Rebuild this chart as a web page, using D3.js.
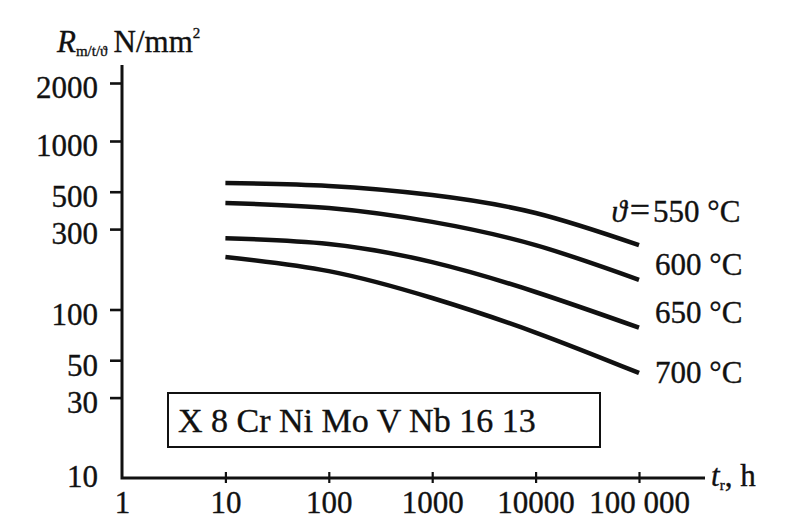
<!DOCTYPE html>
<html>
<head>
<meta charset="utf-8">
<script src="https://cdn.jsdelivr.net/npm/d3@7"></script>
<style>
  html, body { margin: 0; padding: 0; background: #fff; }
  svg { display: block; }
  text { font-family: "Liberation Serif", "DejaVu Serif", serif; fill: #111; stroke: #111; stroke-width: 0.35px; }
</style>
</head>
<body>
<svg id="chart" width="808" height="520"></svg>
<script>
// ---- data ----
const times = [10, 100, 1000, 10000, 100000];           // t_r in h
const temps = ["550", "600", "650", "700"];              // °C
const rupture550 = [563, 541, 478, 374, 241];            // N/mm²
const rupture600 = [429, 400, 331, 241, 150];
const rupture650 = [265, 245, 191, 127, 78];
const rupture700 = [205, 169, 117, 73, 42];
const seriesValues = [rupture550, rupture600, rupture650, rupture700];
const seriesLabels = ["550 °C", "600 °C", "650 °C", "700 °C"];
const xTickValues = [1, 10, 100, 1000, 10000, 100000];
const xTickLabels = ["1", "10", "100", "1000", "10000", "100 000"];
const yTickValues = [10, 30, 50, 100, 300, 500, 1000, 2000];
const yTickLabels = ["10", "30", "50", "100", "300", "500", "1000", "2000"];
const materialLabel = "X 8 Cr Ni Mo V Nb 16 13";

// ---- layout ----
const svg = d3.select("#chart");
const x0 = 122, x1 = 639, xAxisEnd = 705;
const yBottom = 478, yAxisTop = 65;
const labelLayout = [ {dx: 14, dy: -34}, {dx: 16, dy: -16}, {dx: 16, dy: -16}, {dx: 16, dy: -1} ];

const x = d3.scaleLog().domain([1, 100000]).range([x0, x1]);
// drawn axis is a (slightly irregular) log scale: piecewise log
const y = d3.scaleLog().domain([10, 1000, 2000]).range([yBottom, 141, 83]);

// ---- axes ----
const gy = svg.append("g").attr("transform", `translate(${x0},0)`)
  .call(d3.axisLeft(y).tickValues(yTickValues.filter(v => v !== 10))
    .tickFormat((d) => yTickLabels[yTickValues.indexOf(d)])
    .tickSize(12).tickSizeOuter(0).tickPadding(12));
gy.select(".domain").remove();
gy.selectAll(".tick line").attr("stroke", "#111").attr("stroke-width", 2.6);
gy.selectAll(".tick text").attr("font-size", 31).attr("dy", "0.48em")
  .attr("font-family", "Liberation Serif").attr("fill", "#111");
// label "10" at the corner
svg.append("text").attr("x", x0 - 24).attr("y", y(10)).attr("dy", "0.3em")
  .attr("text-anchor", "end").attr("font-size", 31).text(yTickLabels[0]);

const gx = svg.append("g").attr("transform", `translate(0,${yBottom})`)
  .call(d3.axisBottom(x).tickValues(xTickValues)
    .tickFormat((d) => xTickLabels[xTickValues.indexOf(d)])
    .tickSize(5).tickSizeOuter(0).tickPadding(8));
gx.select(".domain").remove();
gx.selectAll(".tick line").attr("stroke", "#111").attr("stroke-width", 2.2).attr("y1", -6)
  .filter(d => d === 1).remove();
gx.selectAll(".tick text").attr("font-size", 31)
  .attr("font-family", "Liberation Serif").attr("fill", "#111");

// axis lines
svg.append("path")
  .attr("d", `M${x0},${yAxisTop}V${yBottom}H${xAxisEnd}`)
  .attr("fill", "none").attr("stroke", "#111").attr("stroke-width", 3);

// ---- curves ----
const line = d3.line()
  .x((d, i) => x(times[i]))
  .y(d => y(d))
  .curve(d3.curveNatural);

svg.append("g").selectAll("path").data(seriesValues).join("path")
  .attr("d", d => line(d))
  .attr("fill", "none").attr("stroke", "#111").attr("stroke-width", 4.5)
  .attr("stroke-linecap", "butt");

// curve labels
svg.append("g").selectAll("text").data(seriesValues).join("text")
  .attr("x", (d, i) => x(times[times.length - 1]) + labelLayout[i].dx)
  .attr("y", (d, i) => y(d[d.length - 1]) + labelLayout[i].dy)
  .attr("dy", "0.35em")
  .attr("font-size", 31)
  .text((d, i) => seriesLabels[i]);
// "ϑ =" prefix of the first label
svg.append("text")
  .attr("x", x(times[times.length - 1]) + labelLayout[0].dx - 3)
  .attr("y", y(rupture550[rupture550.length - 1]) + labelLayout[0].dy)
  .attr("dy", "0.35em").attr("text-anchor", "end").attr("font-size", 31)
  .call(t => {
    t.append("tspan").attr("font-style", "italic").text("ϑ");
    t.append("tspan").attr("dx", 3).attr("font-size", 36).text("=");
  });

// ---- material box ----
svg.append("rect").attr("x", 168).attr("y", 393).attr("width", 432).attr("height", 54)
  .attr("fill", "#fff").attr("stroke", "#111").attr("stroke-width", 2);
svg.append("text").attr("x", 178).attr("y", 420).attr("dy", "0.35em")
  .attr("font-size", 34).text(materialLabel);

// ---- axis titles ----
const yt = svg.append("text").attr("x", 57).attr("y", 52).attr("font-size", 31);
yt.append("tspan").attr("font-style", "italic").text("R");
yt.append("tspan").attr("font-size", 15).attr("dy", 4).text("m/t/ϑ");
yt.append("tspan").attr("dy", -4).attr("dx", 6).text("N/mm");
yt.append("tspan").attr("font-size", 15).attr("dy", -14).text("2");

const xt = svg.append("text").attr("x", 711).attr("y", 486).attr("font-size", 31);
xt.append("tspan").attr("font-style", "italic").text("t");
xt.append("tspan").attr("font-size", 15).attr("dy", 4).text("r");
xt.append("tspan").attr("dy", -4).text(", h");
</script>
</body>
</html>
